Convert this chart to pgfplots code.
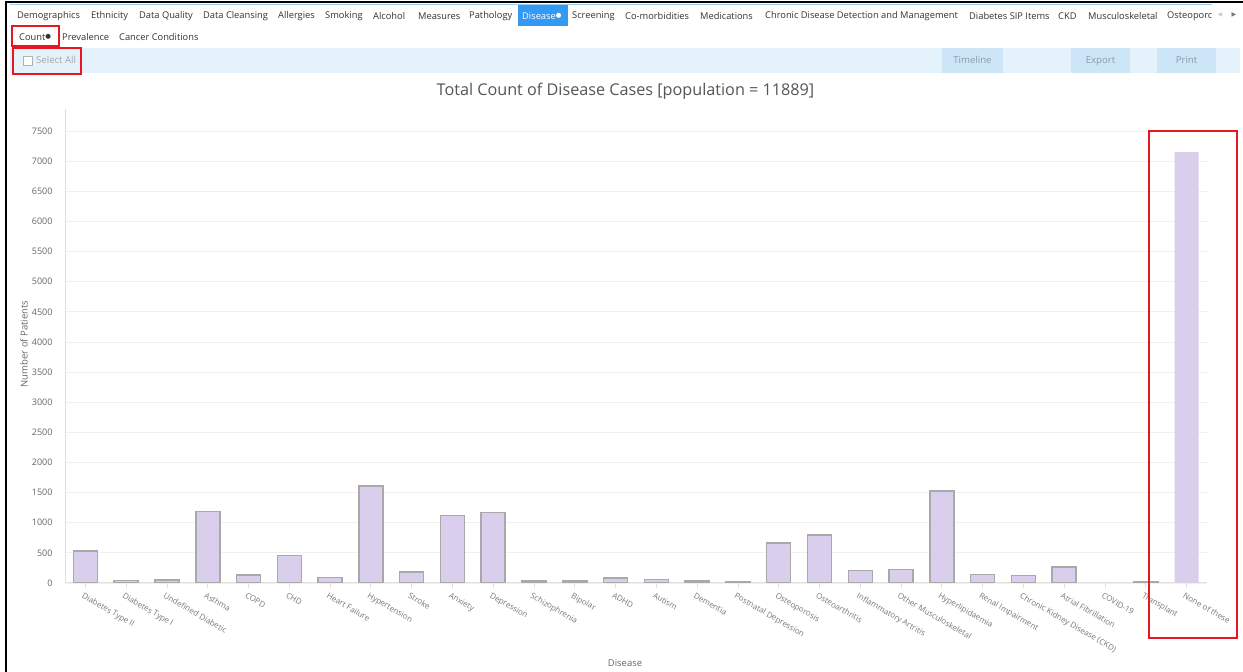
\documentclass[border=0pt]{standalone}
\usepackage{fontspec}
\setmainfont{Open Sans}
\newfontfamily\dejavu{DejaVu Sans}
\usepackage{pgfplots}
\pgfplotsset{compat=1.18}
\definecolor{barfill}{HTML}{D9CFEC}
\definecolor{barline}{HTML}{A9A9A9}
\definecolor{redbox}{HTML}{E8161E}
\definecolor{tbar}{HTML}{E4F2FC}
\definecolor{tbtn}{HTML}{CDE6F7}
\definecolor{selblue}{HTML}{3399F3}
\definecolor{gridc}{HTML}{F0F0F0}
\definecolor{axl}{HTML}{E0E0E0}
\definecolor{menutext}{HTML}{333333}
\definecolor{titlec}{HTML}{555555}
\definecolor{labc}{HTML}{666666}
\definecolor{xlabc}{HTML}{777777}
\definecolor{btntext}{HTML}{8A9BAA}
\definecolor{topline}{HTML}{9CCBEE}
\newcommand{\dotb}{\raisebox{1.6pt}{\dejavu\fontsize{6.5}{7}\selectfont ●}}
\newcommand{\mi}[2]{\node[anchor=west,inner sep=0pt,text=menutext,font=\fontsize{9.3}{11}\selectfont] at (#1,656) {#2};}
\newcommand{\mii}[2]{\node[anchor=west,inner sep=0pt,text=menutext,font=\fontsize{9.3}{11}\selectfont] at (#1,635) {#2};}
\begin{document}
\begin{tikzpicture}[x=1pt,y=1pt]
\path[use as bounding box, fill=white] (0,0) rectangle (1243,672);
% frame lines
\draw[black, line width=2pt] (5,670) -- (1243,670);
\draw[black, line width=2.5pt] (6,670) -- (6,0);
\draw[topline, line width=1pt] (10,667) -- (1212,667);
% top menu
\fill[selblue] (518,646) rectangle (568,667);
\mi{17}{Demographics}
\mi{91}{Ethnicity}
\mi{139}{Data Quality}
\mi{203}{Data Cleansing}
\mi{278}{Allergies}
\mi{325}{Smoking}
\mi{373}{Alcohol}
\mi{418}{Measures}
\mi{469}{Pathology}
\node[anchor=west,inner sep=0pt,text=white,font=\fontsize{9.3}{11}\selectfont] at (522,656) {Disease\dotb};
\mi{572}{Screening}
\mi{625}{Co-morbidities}
\mi{700}{Medications}
\mi{765}{Chronic Disease Detection and Management}
\mi{969}{Diabetes SIP Items}
\mi{1058}{CKD}
\mi{1088}{Musculoskeletal}
\mi{1167}{Osteoporc}
\node[anchor=center,inner sep=0pt,text=gray!40,font=\dejavu\fontsize{6}{7}\selectfont] at (1220,657) {◀};
\node[anchor=center,inner sep=0pt,text=gray!90!black,font=\dejavu\fontsize{6}{7}\selectfont] at (1234,657) {▶};
% second row
\mii{19}{Count\dotb}
\mii{62}{Prevalence}
\mii{119}{Cancer Conditions}
% toolbar
\fill[tbar] (10,599) rectangle (1240,624);
\fill[tbtn] (942,599) rectangle (1003,624);
\fill[tbtn] (1071,599) rectangle (1130,624);
\fill[tbtn] (1157,599) rectangle (1216,624);
\node[anchor=base,inner sep=0pt,text=btntext,font=\fontsize{9.6}{11}\selectfont] at (972.5,608) {Timeline};
\node[anchor=base,inner sep=0pt,text=btntext,font=\fontsize{9.6}{11}\selectfont] at (1100.5,608) {Export};
\node[anchor=base,inner sep=0pt,text=btntext,font=\fontsize{9.6}{11}\selectfont] at (1186.5,608) {Print};
\draw[gray!60, fill=white, line width=0.7pt] (23,607) rectangle (32,616);
\node[anchor=base west,inner sep=0pt,text=gray!70,font=\fontsize{9.6}{11}\selectfont] at (36,608) {Select All};
% title
\node[text=titlec,font=\fontsize{16.2}{18}\selectfont] at (625.5,581) {Total Count of Disease Cases [population = 11889]};
% axis labels
\node[rotate=90,text=labc,font=\fontsize{9.5}{11}\selectfont] at (24,328) {Number of Patients};
\node[text=labc,font=\fontsize{9.5}{11}\selectfont] at (625,9) {Disease};
\begin{axis}[
  at={(65pt,89pt)}, anchor=south west, scale only axis,
  width=1142pt, height=474pt,
  xmin=-0.5, xmax=27.5, ymin=0, ymax=7865,
  axis x line=bottom, axis y line=left,
  axis line style={draw=axl, line width=1pt, -},
  ytick={0,500,...,7500},
  ymajorgrids, grid style={draw=gridc, line width=0.8pt},
  ytick style={draw=none},
  xtick={0,...,27},
  xtick style={draw=axl, line width=0.8pt},
  tick align=outside, major tick length=5pt,
  xticklabels={Diabetes Type II, Diabetes Type I, Undefined Diabetic, Asthma, COPD, CHD, Heart Failure, Hypertension, Stroke, Anxiety, Depression, Schizophrenia, Bipolar, ADHD, Autism, Dementia, Postnatal Depression, Osteoporosis, Osteoarthritis, Inflammatory Artritis, Other Musculoskeletal, Hyperlipidaemia, Renal Impairment, Chronic Kidney Disease (CKD), Atrial Fibrillation, COVID-19, Transplant, None of these},
  x tick label style={rotate=-30, anchor=north west, font=\fontsize{8}{9}\selectfont, text=xlabc, xshift=0pt, yshift=-3pt, inner sep=1pt},
  y tick label style={font=\fontsize{9}{10}\selectfont, text=labc, xshift=-4pt},
  /pgf/number format/assume math mode=true,
  /pgf/number format/1000 sep={},
  ybar, bar width=24pt,
]
\addplot[ybar, bar shift=0pt, fill=barfill, draw=barline, line width=1.5pt] coordinates {
 (0,530) (1,40) (2,50) (3,1190) (4,130) (5,460) (6,90) (7,1610) (8,180) (9,1120)
 (10,1170) (11,35) (12,35) (13,85) (14,55) (15,35) (16,15) (17,665) (18,800) (19,210)
 (20,225) (21,1530) (22,140) (23,125) (24,265) (26,15)
};
\addplot[ybar, bar shift=0pt, fill=barfill, draw=none] coordinates {
 (25,0) (27,7150)
};
\end{axis}
% red highlight boxes
\draw[redbox, line width=2.5pt] (12,626) rectangle (59,646);
\draw[redbox, line width=2.5pt] (13,598) rectangle (81,624);
\draw[redbox, line width=2.5pt] (1149,34) rectangle (1237,541);
\end{tikzpicture}
\end{document}
